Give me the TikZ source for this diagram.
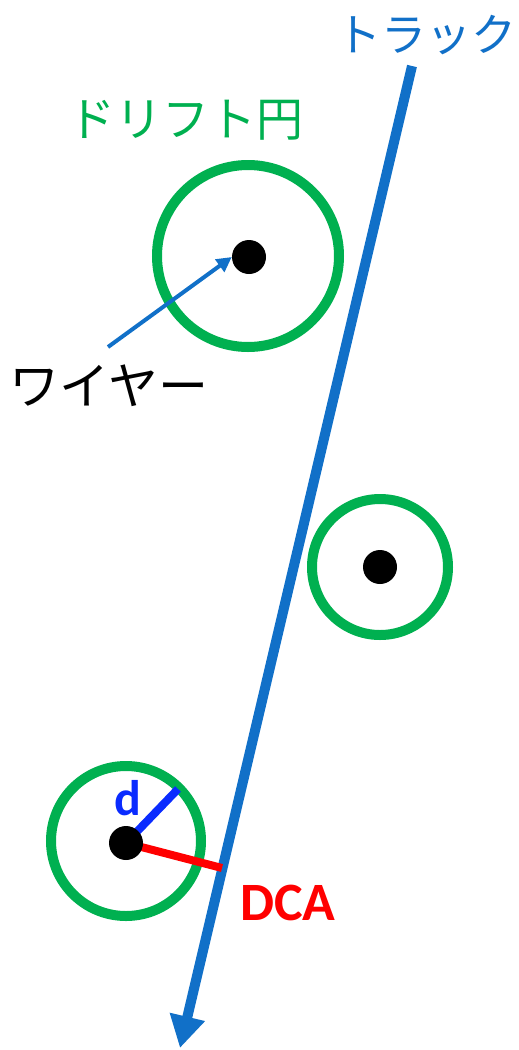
\documentclass[tikz,border=0pt]{standalone}
\usepackage{fontspec}
\setmainfont{Carlito}
\newfontfamily\jp{Noto Sans CJK JP}
\usetikzlibrary{arrows.meta}
\definecolor{drgreen}{HTML}{00B050}
\definecolor{trkblue}{HTML}{1170C8}
\definecolor{dblue}{HTML}{0A2BFF}
\definecolor{dcared}{HTML}{FF0000}
\tikzset{
  drift/.style={draw=drgreen, line width=10pt, circle, fill=none, inner sep=0pt},
  wire/.style={circle, fill=black, inner sep=0pt, minimum size=34pt},
  jplabel/.style={inner sep=0pt, font=\jp\fontsize{45}{48}\selectfont},
}
\begin{document}
\begin{tikzpicture}[x=1pt, y=-1pt]
\useasboundingbox (0,0) rectangle (519,1050);
% drift circles
\node[drift, minimum size=182pt] (c1) at (248,256) {};
\node[drift, minimum size=136pt] (c2) at (380,567) {};
\node[drift, minimum size=150pt] (c3) at (126,841) {};
% wire positions
\coordinate (p3) at (126,843);
% track
\coordinate (ttop) at (412,66);
\coordinate (tbot) at (180,1048);
\draw[trkblue, line width=10pt, -{Triangle[length=32pt,width=34pt]}] (ttop) -- (tbot);
% d and DCA segments
\coordinate (dend) at (178,789);
\coordinate (dcaend) at (222,868);
\draw[dblue, line width=8pt] (p3) -- (dend);
\draw[dcared, line width=8pt] (p3) -- (dcaend);
% wires
\node[wire] (w1) at (249,257) {};
\node[wire] (w2) at (380,567) {};
\node[wire] (w3) at (p3) {};
% wire pointer
\coordinate (wstart) at (108,347);
\draw[trkblue, line width=4pt, -{Triangle[length=15pt,width=15pt]}] (wstart) -- (w1.west);
% labels
\node[jplabel, text=trkblue] (ltrack) at (426,35) {トラック};
\node[jplabel, text=drgreen, font=\jp\fontsize{47}{50}\selectfont] (ldrift) at (186,120) {ドリフト円};
\node[jplabel, text=black, font=\jp\fontsize{50}{52}\selectfont] (lwire) at (109,386) {ワイヤー};
\node[inner sep=0pt, anchor=base, text=dblue, font=\bfseries\fontsize{50}{52}\selectfont] (ld) at (128,815) {d};
\node[inner sep=0pt, anchor=base, text=dcared, font=\bfseries\fontsize{54}{56}\selectfont] (ldca) at (288,920) {DCA};
\end{tikzpicture}
\end{document}
